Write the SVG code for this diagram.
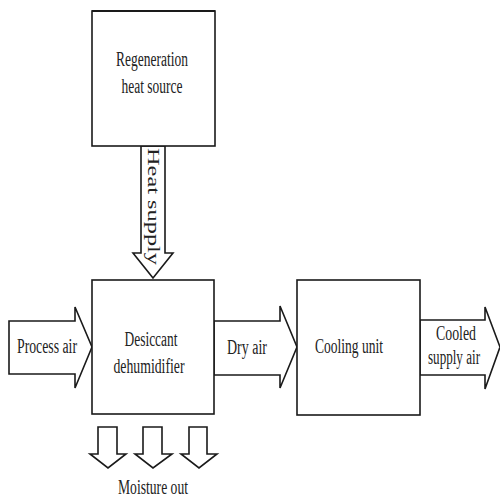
<svg xmlns="http://www.w3.org/2000/svg" width="500" height="498" viewBox="0 0 500 498">
<style>
.box{fill:#fff;stroke:#1a1a1a;stroke-width:1.6}
.arr{fill:#fff;stroke:#1a1a1a;stroke-width:1.6;stroke-linejoin:miter}
text{font-family:"Liberation Serif","Times New Roman",serif;font-size:20px;fill:#222;text-anchor:middle}
</style>
<rect width="500" height="498" fill="#fff"/>
<g id="connectors">
<g id="heat-supply">
<polygon class="arr" points="141,146 165,146 165,253 173,253 153,278 133,253 141,253"/>
<text transform="translate(148,148) rotate(90)" style="text-anchor:start;font-size:17px" textLength="117" lengthAdjust="spacingAndGlyphs">Heat supply</text>
</g>
<g id="process-air">
<polygon class="arr" points="9,321 75,321 75,307 92,347 75,388 75,374 9,374"/>
<text x="47" y="353" textLength="60" lengthAdjust="spacingAndGlyphs">Process air</text>
</g>
<g id="dry-air">
<polygon class="arr" points="214,321 280,321 280,306 297,347 280,388 280,375 214,375"/>
<text x="247" y="354" textLength="40" lengthAdjust="spacingAndGlyphs">Dry air</text>
</g>
<g id="cooled-supply-air">
<polygon class="arr" points="420,320 485,320 485,307 500,347 485,389 485,375 420,375"/>
<text x="456" y="340" textLength="40" lengthAdjust="spacingAndGlyphs">Cooled</text>
<text x="454" y="364" textLength="52" lengthAdjust="spacingAndGlyphs">supply air</text>
</g>
<g id="moisture-out">
<polygon class="arr" points="98,427 117,427 117,454 126,454 108,468 90,454 98,454"/>
<polygon class="arr" points="143,427 162,427 162,454 172,454 153,468 135,454 143,454"/>
<polygon class="arr" points="189,427 207,427 207,454 217,454 199,468 181,454 189,454"/>
<text x="153" y="494" textLength="70" lengthAdjust="spacingAndGlyphs">Moisture out</text>
</g>
</g>
<g id="regeneration">
<rect class="box" x="92" y="11" width="123" height="135"/>
<line x1="92" y1="11" x2="215" y2="11" stroke="#1a1a1a" stroke-width="2.2"/>
<text x="152" y="66" textLength="72" lengthAdjust="spacingAndGlyphs">Regeneration</text>
<text x="152" y="93" textLength="61" lengthAdjust="spacingAndGlyphs">heat source</text>
</g>
<g id="desiccant">
<rect class="box" x="92" y="280" width="122" height="134"/>
<text x="151" y="346" textLength="53" lengthAdjust="spacingAndGlyphs">Desiccant</text>
<text x="149" y="373" textLength="71" lengthAdjust="spacingAndGlyphs">dehumidifier</text>
</g>
<g id="cooling">
<rect class="box" x="297" y="280" width="123" height="135"/>
<text x="349" y="353" textLength="68" lengthAdjust="spacingAndGlyphs">Cooling unit</text>
</g>
</svg>
